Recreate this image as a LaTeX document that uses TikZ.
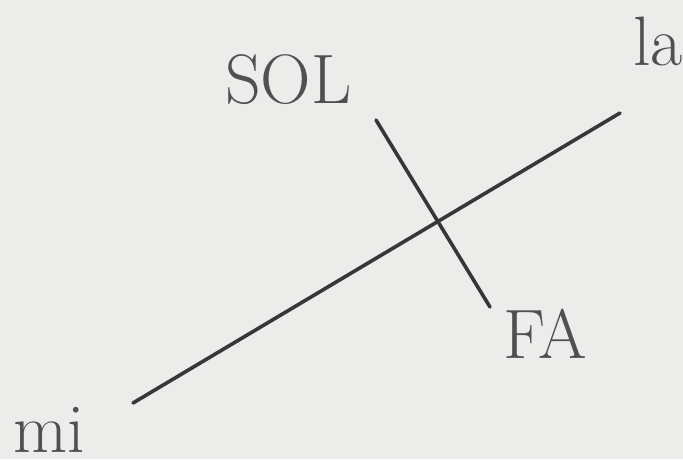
\documentclass[tikz,border=0pt]{standalone}
\usepackage{fontspec}
\definecolor{paper}{RGB}{236,236,234}
\definecolor{ink}{RGB}{55,55,55}
\definecolor{txt}{RGB}{80,80,80}
\tikzset{
  lbl/.style={anchor=base west, inner sep=0pt, text=txt, font=\rmfamily\fontsize{70}{70}\selectfont\addfontfeature{FakeStretch=1.12}},
  stroke/.style={draw=ink, line width=3.6pt, line cap=round}
}
\begin{document}
\begin{tikzpicture}[x=1pt,y=-1pt]
\fill[paper] (0,0) rectangle (683,459);
\useasboundingbox (0,0) rectangle (683,459);
\coordinate (mi1) at (133,403);
\coordinate (la1) at (620,113);
\coordinate (sol1) at (376,120);
\coordinate (fa1) at (490,307);
\draw[stroke] (mi1) -- (la1);
\draw[stroke] (sol1) -- (fa1);
\node[lbl] (sol) at (225,103) {SOL};
\node[lbl] (la) at (633,65) {la};
\node[lbl] (fa) at (503,358) {FA};
\node[lbl] (mi) at (13,452) {mi};
\end{tikzpicture}
\end{document}
